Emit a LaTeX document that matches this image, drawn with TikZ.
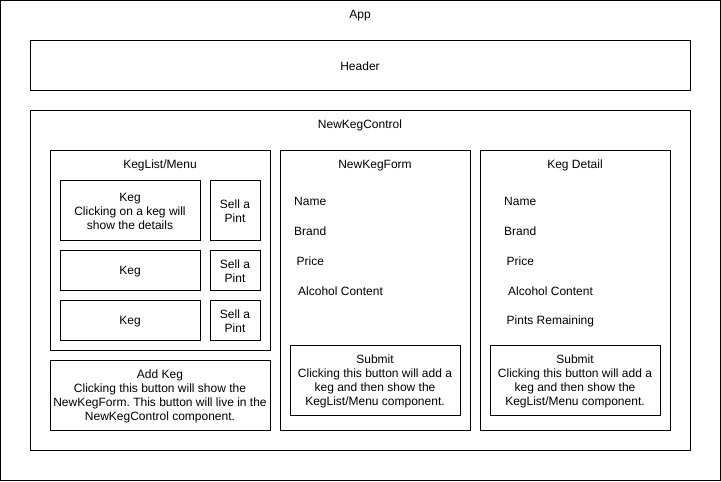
\documentclass[tikz,border=0pt]{standalone}
\usepackage{fontspec}
\setmainfont{Liberation Sans}
\frenchspacing
\begin{document}
\begin{tikzpicture}[x=1pt,y=-1pt,
  font=\fontsize{12}{14}\selectfont,
  box/.style={draw, line width=1pt, inner sep=0pt},
  txt/.style={inner sep=0pt, align=center},
  lbl/.style={inner sep=0pt, anchor=west}]
\useasboundingbox (0,0) rectangle (721,482);
% App
\node[box, minimum width=720, minimum height=480] (app) at (360.5,240.5) {};
\node[txt] (appt) at (360,15.5) {App};
% Header
\node[box, minimum width=660, minimum height=50] (header) at (360,65) {};
\node[txt] (headert) at ([yshift=-1.5pt]header.center) {Header};
% NewKegControl
\node[box, minimum width=660, minimum height=340] (nkc) at (360,280) {};
\node[txt] (nkct) at (360,125.5) {NewKegControl};
% KegList/Menu
\node[box, minimum width=220, minimum height=200] (kl) at (160,250) {};
\node[txt] (klt) at (160,165.5) {KegList/Menu};
\node[box, minimum width=140, minimum height=60] (keg1) at (130,210) {};
\node[txt] (keg1t) at ([yshift=-1pt]keg1.center) {Keg\\Clicking on a keg will\\show the details};
\node[box, minimum width=50, minimum height=60] (sell1) at (235,210) {};
\node[txt] (sell1t) at ([yshift=-1pt]sell1.center) {Sell a\\Pint};
\node[box, minimum width=140, minimum height=40] (keg2) at (130,270) {};
\node[txt] (keg2t) at ([yshift=-1.5pt]keg2.center) {Keg};
\node[box, minimum width=50, minimum height=40] (sell2) at (235,270) {};
\node[txt] (sell2t) at ([yshift=-1pt]sell2.center) {Sell a\\Pint};
\node[box, minimum width=140, minimum height=40] (keg3) at (130,320) {};
\node[txt] (keg3t) at ([yshift=-1.5pt]keg3.center) {Keg};
\node[box, minimum width=50, minimum height=40] (sell3) at (235,320) {};
\node[txt] (sell3t) at ([yshift=-1pt]sell3.center) {Sell a\\Pint};
% Add Keg
\node[box, minimum width=220, minimum height=70] (add) at (160,395) {};
\node[txt] (addt) at ([yshift=-1.5pt]add.center) {Add Keg\\Clicking this button will show the\\NewKegForm. This button will live in the\\NewKegControl component.};
% NewKegForm
\node[box, minimum width=190, minimum height=280] (form) at (375,290) {};
\node[txt] (formt) at (375,165.5) {NewKegForm};
\node[lbl] (fname) at (294,201) {Name};
\node[lbl] (fbrand) at (294,231) {Brand};
\node[lbl] (fprice) at (296.5,261) {Price};
\node[lbl] (falc) at (298,291) {Alcohol Content};
\node[box, minimum width=170, minimum height=70] (sub1) at (375,380) {};
\node[txt] (sub1t) at ([yshift=-1.5pt]sub1.center) {Submit\\Clicking this button will add a\\keg and then show the\\KegList/Menu component.};
% Keg Detail
\node[box, minimum width=190, minimum height=280] (det) at (575,290) {};
\node[txt] (dett) at (575,165.5) {Keg Detail};
\node[lbl] (dname) at (504,201) {Name};
\node[lbl] (dbrand) at (504,231) {Brand};
\node[lbl] (dprice) at (506.5,261) {Price};
\node[lbl] (dalc) at (508,291) {Alcohol Content};
\node[lbl] (dpints) at (506.5,321) {Pints Remaining};
\node[box, minimum width=170, minimum height=70] (sub2) at (575,380) {};
\node[txt] (sub2t) at ([yshift=-1.5pt]sub2.center) {Submit\\Clicking this button will add a\\keg and then show the\\KegList/Menu component.};
\end{tikzpicture}
\end{document}
